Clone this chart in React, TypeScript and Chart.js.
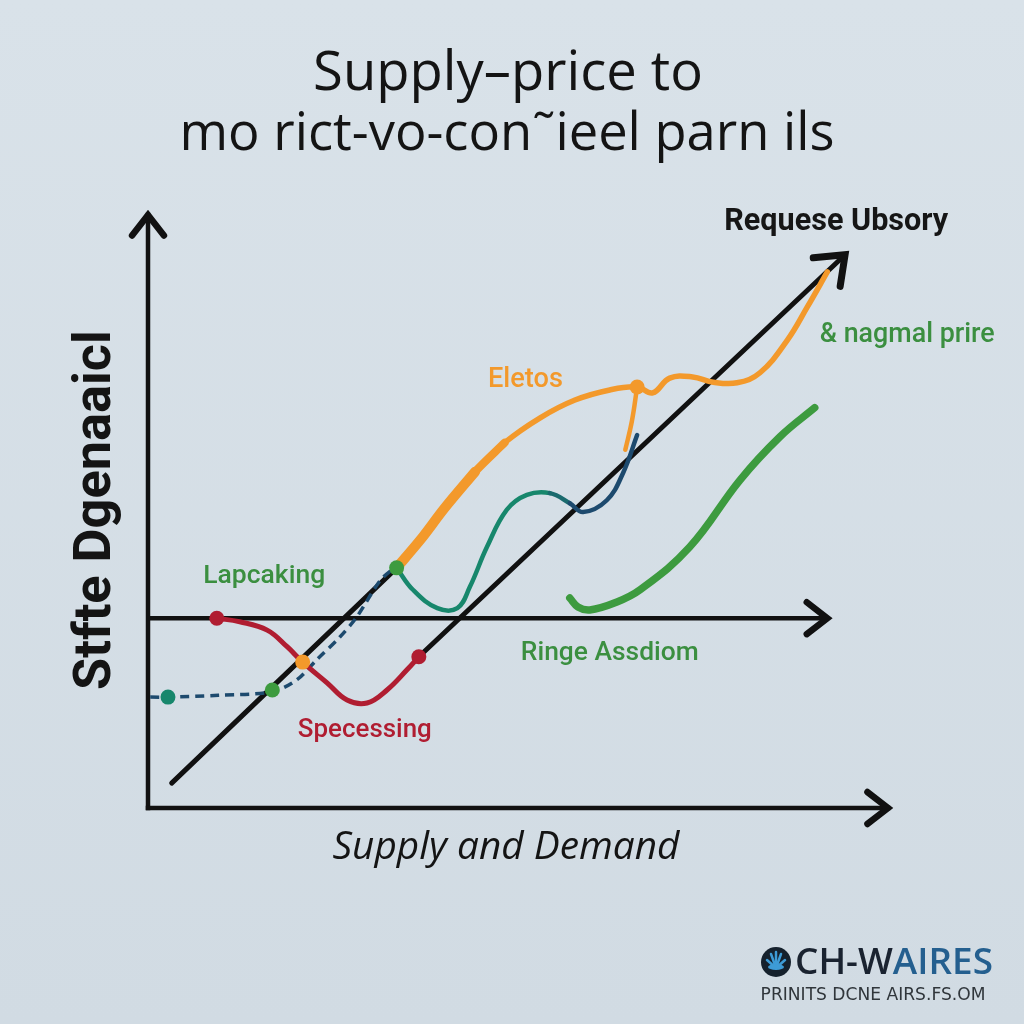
import React, { useEffect, useRef } from 'react';
import { Chart, registerables } from 'chart.js';

Chart.register(...registerables);

// ---- Data (chart units: x 0..100, y 0..100) ----
const xAxisX = [0, 100];
const xAxisY = [0, 0];
const yAxisX = [0, 0];
const yAxisY = [0, 100];

const ringeX = [0, 91.8];
const ringeY = [32.0, 32.0];

const lineAX = [3.2, 33.6];
const lineAY = [4.2, 40.5];

const requeseX = [36.6, 94.2];
const requeseY = [25.5, 93.3];

const specessingX = [9.3, 12.4, 16.1, 18.8, 20.9, 24.2, 26.9, 29.6, 32.3, 35.0, 36.6];
const specessingY = [32.0, 31.4, 30.0, 27.2, 24.6, 21.1, 18.2, 17.7, 19.9, 23.3, 25.5];

const dashedX = [0.3, 2.7, 9.5, 16.8, 20.1, 22.8, 25.9, 28.2, 31.4, 33.4];
const dashedY = [18.7, 18.7, 19.0, 19.6, 21.6, 25.0, 28.8, 32.2, 38.4, 40.6];

const eletosX = [33.6, 36.8, 40.1, 44.2, 48.2, 53.0, 57.7, 62.4, 66.1, 68.2, 70.5, 73.6, 76.4, 79.6, 82.7, 86.4, 89.1, 91.8];
const eletosY = [40.5, 45.2, 50.6, 56.7, 61.6, 65.8, 68.8, 70.5, 71.0, 70.0, 72.5, 72.7, 71.8, 71.7, 73.4, 78.9, 84.5, 90.4];
const eletosThickX = [33.6, 36.8, 40.1, 44.2];
const eletosThickY = [40.5, 45.2, 50.6, 56.7];
const eletosMidX = [40.1, 44.2, 48.2];
const eletosMidY = [50.6, 56.7, 61.6];
const branchX = [66.1, 65.4, 64.5];
const branchY = [71.0, 65.3, 60.4];

const wavyX = [33.6, 35.8, 39.1, 41.8, 43.5, 45.8, 48.5, 51.2, 54.3, 57.0, 58.8, 62.0, 64.2, 66.1];
const wavyY = [40.5, 36.8, 33.7, 33.7, 37.3, 44.0, 50.3, 52.8, 53.1, 51.4, 49.9, 51.9, 56.5, 62.9];

const greenX = [57.0, 58.1, 59.7, 63.1, 66.5, 73.2, 80.0, 85.4, 90.1];
const greenY = [35.4, 33.9, 33.4, 34.6, 36.8, 44.0, 55.3, 62.6, 67.5];

const dotX = [2.7, 16.8, 20.9, 9.3, 36.6, 33.6, 66.1];
const dotY = [18.7, 19.9, 24.6, 32.0, 25.5, 40.5, 71.0];

const C = {
  black: '#111111',
  red: '#b01d31',
  orange: '#f3992b',
  green: '#3d9b3f',
  teal: '#17876c',
  navy: '#1d4a6e',
  textGreen: '#3b8f40',
};
const dotColors = [C.teal, C.green, C.orange, C.red, C.red, C.green, C.orange];

const pts = (xs: number[], ys: number[]) => xs.map((x, i) => ({ x, y: ys[i] }));

function fitText(ctx: CanvasRenderingContext2D, text: string, cx: number, cy: number, width: number, font: (s: number) => string, color: string) {
  ctx.font = font(40);
  const w = ctx.measureText(text).width;
  const size = (40 * width) / w;
  ctx.font = font(size);
  ctx.fillStyle = color;
  ctx.textAlign = 'center';
  ctx.textBaseline = 'middle';
  ctx.fillText(text, cx, cy);
}

const arrowPlugin = {
  id: 'arrowHeads',
  afterDatasetsDraw(chart: any) {
    const ctx = chart.ctx;
    chart.data.datasets.forEach((ds: any, i: number) => {
      if (!ds.arrow) return;
      const meta = chart.getDatasetMeta(i);
      const n = meta.data.length;
      const p1 = meta.data[n - 1];
      const p0 = meta.data[n - 2];
      const ang = Math.atan2(p1.y - p0.y, p1.x - p0.x);
      const len = ds.arrow;
      const spread = 0.66;
      ctx.save();
      ctx.strokeStyle = ds.borderColor;
      ctx.lineWidth = ds.borderWidth + 2;
      ctx.lineCap = 'round';
      ctx.lineJoin = 'miter';
      ctx.beginPath();
      ctx.moveTo(p1.x - len * Math.cos(ang - spread), p1.y - len * Math.sin(ang - spread));
      ctx.lineTo(p1.x, p1.y);
      ctx.lineTo(p1.x - len * Math.cos(ang + spread), p1.y - len * Math.sin(ang + spread));
      ctx.stroke();
      ctx.restore();
    });
  },
};

const bgPlugin = {
  id: 'bg',
  beforeDraw(chart: any) {
    const ctx = chart.ctx;
    const g = ctx.createLinearGradient(0, 0, 0, chart.height);
    g.addColorStop(0, '#d9e2e9');
    g.addColorStop(1, '#d1dbe3');
    ctx.save();
    ctx.fillStyle = g;
    ctx.fillRect(0, 0, chart.width, chart.height);
    ctx.restore();
  },
};

const textPlugin = {
  id: 'texts',
  afterDraw(chart: any) {
    const ctx = chart.ctx;
    const xs = chart.scales.x;
    const ys = chart.scales.y;
    const px = (v: number) => xs.getPixelForValue(v);
    const py = (v: number) => ys.getPixelForValue(v);
    ctx.save();
    const sans = (w: string) => (s: number) => `${w} ${s}px "Open Sans"`;
    const rob = (w: string) => (s: number) => `${w} ${s}px Roboto`;
    fitText(ctx, 'Supply\u2013price to', 508, 75, 390, sans('500'), '#141414');
    fitText(ctx, 'mo rict-vo-con\u02dcieel parn ils', 507, 135, 655, sans('500'), '#141414');

    fitText(ctx, 'Requese Ubsory', px(93.0), py(98.8), 224, rob('bold'), '#161616');
    fitText(ctx, '& nagmal prire', px(102.6), py(79.7), 175, rob('500'), C.textGreen);
    fitText(ctx, 'Eletos', px(51.0), py(72.2), 75, rob('500'), C.orange);
    fitText(ctx, 'Lapcaking', px(15.7), py(39.0), 122, rob('500'), C.textGreen);
    fitText(ctx, 'Ringe Assdiom', px(62.4), py(26.0), 178, rob('500'), C.textGreen);
    fitText(ctx, 'Specessing', px(29.3), py(13.0), 134, rob('500'), C.red);

    fitText(ctx, 'Supply and Demand', 506, 848, 347, (s) => `italic 500 ${s}px "Open Sans"`, '#141414');

    ctx.save();
    ctx.translate(97, 510);
    ctx.rotate(-Math.PI / 2);
    fitText(ctx, 'Stfte Dgenaaicl', 0, 0, 360, rob('bold'), '#141414');
    ctx.restore();

    // watermark
    ctx.beginPath();
    ctx.arc(776, 962, 15, 0, Math.PI * 2);
    ctx.fillStyle = '#15212d';
    ctx.fill();
    ctx.strokeStyle = '#3d9bd6';
    ctx.lineWidth = 2.5;
    ctx.lineCap = 'round';
    const rays = [[-9, -2], [-5, -8], [0, -10], [5, -8], [9, -2]];
    rays.forEach(([dx, dy]) => {
      ctx.beginPath();
      ctx.moveTo(776, 968);
      ctx.lineTo(776 + dx, 962 + dy);
      ctx.stroke();
    });
    ctx.fillStyle = '#3d9bd6';
    ctx.beginPath();
    ctx.ellipse(776, 967, 8, 3, 0, 0, Math.PI * 2);
    ctx.fill();

    ctx.textAlign = 'left';
    ctx.textBaseline = 'middle';
    ctx.font = '600 30px "Open Sans"';
    const a = 'CH-W';
    const b = 'AIRES';
    const wa = ctx.measureText(a).width;
    const wb = ctx.measureText(b).width;
    const scale = 198 / (wa + wb);
    ctx.font = `600 ${30 * scale}px "Open Sans"`;
    const wa2 = ctx.measureText(a).width;
    ctx.fillStyle = '#1a2330';
    ctx.fillText(a, 795, 963);
    ctx.fillStyle = '#245f8f';
    ctx.fillText(b, 795 + wa2, 963);

    ctx.textAlign = 'center';
    fitText(ctx, 'PRINITS DCNE AIRS.FS.OM', 873, 996, 225, (s) => `400 ${s}px "DejaVu Sans"`, '#30363b');
    ctx.restore();
  },
};

export default function App() {
  const ref = useRef<HTMLCanvasElement | null>(null);
  useEffect(() => {
    if (!ref.current) return;
    const line = (label: string, xs: number[], ys: number[], color: string, width: number, extra: any = {}) => ({
      type: 'line',
      label,
      data: pts(xs, ys),
      borderColor: color,
      backgroundColor: color,
      borderWidth: width,
      pointRadius: 0,
      tension: 0.4,
      fill: false,
      clip: false,
      borderCapStyle: 'round',
      borderJoinStyle: 'round',
      ...extra,
    });
    const chart = new Chart(ref.current, {
      type: 'scatter',
      data: {
        datasets: [
          {
            type: 'scatter',
            label: 'points',
            data: pts(dotX, dotY),
            clip: false,
            pointRadius: 7.5,
            pointBackgroundColor: dotColors,
            pointBorderColor: dotColors,
            pointBorderWidth: 0,
          } as any,
          line('Specessing', specessingX, specessingY, C.red, 5),
          line('Eletos thick', eletosThickX, eletosThickY, C.orange, 10, { tension: 0.3 }),
          line('Eletos mid', eletosMidX, eletosMidY, C.orange, 8, { tension: 0.3 }),
          line('Eletos', eletosX, eletosY, C.orange, 5.5),
          line('Eletos branch', branchX, branchY, C.orange, 4.5),
          line('Wave', wavyX, wavyY, C.teal, 4.5, {
            segment: {
              borderColor: (c: any) => (c.p0DataIndex >= 9 ? C.navy : c.p0DataIndex >= 8 ? '#1a6a6e' : C.teal),
            },
          }),
          line('Lapcaking', dashedX, dashedY, C.navy, 3.5, { borderDash: [9, 6], borderCapStyle: 'butt', tension: 0.3 }),
          line('Nagmal prire', greenX, greenY, C.green, 7.5),
          line('Supply A', lineAX, lineAY, C.black, 5, { tension: 0 }),
          line('Requese Ubsory', requeseX, requeseY, C.black, 5, { tension: 0, arrow: 32 }),
          line('Ringe Assdiom', ringeX, ringeY, C.black, 4.5, { tension: 0, arrow: 26, borderCapStyle: 'butt' }),
          line('x axis', xAxisX, xAxisY, C.black, 4.5, { tension: 0, arrow: 26, borderCapStyle: 'square' }),
          line('y axis', yAxisX, yAxisY, C.black, 4.5, { tension: 0, arrow: 26, borderCapStyle: 'square' }),
        ] as any,
      },
      options: {
        responsive: false,
        animation: false,
        layout: { padding: { left: 148, right: 136, top: 215, bottom: 216 } },
        scales: {
          x: { type: 'linear', min: 0, max: 100, display: false },
          y: { type: 'linear', min: 0, max: 100, display: false },
        },
        plugins: {
          legend: { display: false },
          tooltip: { enabled: false },
          title: { display: false },
        },
      } as any,
      plugins: [bgPlugin, arrowPlugin, textPlugin],
    });
    return () => chart.destroy();
  }, []);
  return (
    <div style={{ position: 'absolute', left: 0, top: 0, width: 1024, height: 1024 }}>
      <canvas ref={ref} width={1024} height={1024} style={{ width: 1024, height: 1024, display: 'block' }} />
    </div>
  );
}
